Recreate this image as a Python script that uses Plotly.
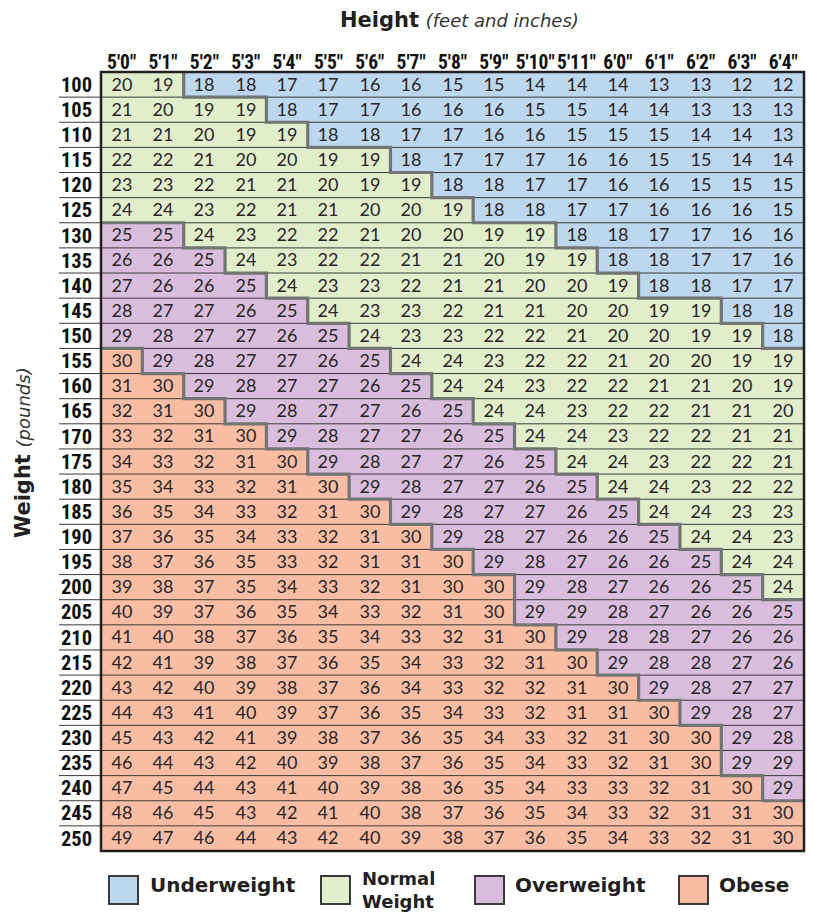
import numpy as np
import plotly.graph_objects as go

heights = ["5'0\"", "5'1\"", "5'2\"", "5'3\"", "5'4\"", "5'5\"", "5'6\"", "5'7\"", "5'8\"",
           "5'9\"", "5'10\"", "5'11\"", "6'0\"", "6'1\"", "6'2\"", "6'3\"", "6'4\""]
weights = list(range(100, 251, 5))

bmi = [
    [20, 19, 18, 18, 17, 17, 16, 16, 15, 15, 14, 14, 14, 13, 13, 12, 12],
    [21, 20, 19, 19, 18, 17, 17, 16, 16, 16, 15, 15, 14, 14, 13, 13, 13],
    [21, 21, 20, 19, 19, 18, 18, 17, 17, 16, 16, 15, 15, 15, 14, 14, 13],
    [22, 22, 21, 20, 20, 19, 19, 18, 17, 17, 17, 16, 16, 15, 15, 14, 14],
    [23, 23, 22, 21, 21, 20, 19, 19, 18, 18, 17, 17, 16, 16, 15, 15, 15],
    [24, 24, 23, 22, 21, 21, 20, 20, 19, 18, 18, 17, 17, 16, 16, 16, 15],
    [25, 25, 24, 23, 22, 22, 21, 20, 20, 19, 19, 18, 18, 17, 17, 16, 16],
    [26, 26, 25, 24, 23, 22, 22, 21, 21, 20, 19, 19, 18, 18, 17, 17, 16],
    [27, 26, 26, 25, 24, 23, 23, 22, 21, 21, 20, 20, 19, 18, 18, 17, 17],
    [28, 27, 27, 26, 25, 24, 23, 23, 22, 21, 21, 20, 20, 19, 19, 18, 18],
    [29, 28, 27, 27, 26, 25, 24, 23, 23, 22, 22, 21, 20, 20, 19, 19, 18],
    [30, 29, 28, 27, 27, 26, 25, 24, 24, 23, 22, 22, 21, 20, 20, 19, 19],
    [31, 30, 29, 28, 27, 27, 26, 25, 24, 24, 23, 22, 22, 21, 21, 20, 19],
    [32, 31, 30, 29, 28, 27, 27, 26, 25, 24, 24, 23, 22, 22, 21, 21, 20],
    [33, 32, 31, 30, 29, 28, 27, 27, 26, 25, 24, 24, 23, 22, 22, 21, 21],
    [34, 33, 32, 31, 30, 29, 28, 27, 27, 26, 25, 24, 24, 23, 22, 22, 21],
    [35, 34, 33, 32, 31, 30, 29, 28, 27, 27, 26, 25, 24, 24, 23, 22, 22],
    [36, 35, 34, 33, 32, 31, 30, 29, 28, 27, 27, 26, 25, 24, 24, 23, 23],
    [37, 36, 35, 34, 33, 32, 31, 30, 29, 28, 27, 26, 26, 25, 24, 24, 23],
    [38, 37, 36, 35, 33, 32, 31, 31, 30, 29, 28, 27, 26, 26, 25, 24, 24],
    [39, 38, 37, 35, 34, 33, 32, 31, 30, 30, 29, 28, 27, 26, 26, 25, 24],
    [40, 39, 37, 36, 35, 34, 33, 32, 31, 30, 29, 29, 28, 27, 26, 26, 25],
    [41, 40, 38, 37, 36, 35, 34, 33, 32, 31, 30, 29, 28, 28, 27, 26, 26],
    [42, 41, 39, 38, 37, 36, 35, 34, 33, 32, 31, 30, 29, 28, 28, 27, 26],
    [43, 42, 40, 39, 38, 37, 36, 34, 33, 32, 32, 31, 30, 29, 28, 27, 27],
    [44, 43, 41, 40, 39, 37, 36, 35, 34, 33, 32, 31, 31, 30, 29, 28, 27],
    [45, 43, 42, 41, 39, 38, 37, 36, 35, 34, 33, 32, 31, 30, 30, 29, 28],
    [46, 44, 43, 42, 40, 39, 38, 37, 36, 35, 34, 33, 32, 31, 30, 29, 29],
    [47, 45, 44, 43, 41, 40, 39, 38, 36, 35, 34, 33, 33, 32, 31, 30, 29],
    [48, 46, 45, 43, 42, 41, 40, 38, 37, 36, 35, 34, 33, 32, 31, 31, 30],
    [49, 47, 46, 44, 43, 42, 40, 39, 38, 37, 36, 35, 34, 33, 32, 31, 30],
]

category_names = ["Underweight", "Normal<br>Weight", "Overweight", "Obese"]
category_max = [18, 24, 29]  # highest table value in each of the first three classes
category_colors = ["#BDD7EF", "#E2EECB", "#D8BEDC", "#F9BDA4"]

# ---------------------------------------------------------------------------
W, H = 813, 918
L, R, T, B = 101, 9, 72, 67
PW, PH = W - L - R, H - T - B


def px(x):
    return (x - L) / PW


def py(y):
    return (H - B - y) / PH


vals = np.array(bmi)
nrows, ncols = vals.shape
cat = np.zeros_like(vals)
for c in category_max:
    cat += (vals > c).astype(int)

cs = []
for k, col in enumerate(category_colors):
    cs.append([k / 4, col])
    cs.append([(k + 1) / 4, col])

fig = go.Figure()
fig.add_trace(go.Heatmap(
    z=cat, x=list(range(ncols)), y=list(range(nrows)),
    text=vals, texttemplate="%{text}",
    textfont=dict(family="Lato, sans-serif", size=18, color="#2a2627"),
    colorscale=cs, zmin=0, zmax=3, showscale=False, hoverinfo="skip",
))

# thin row separators
lx, ly = [], []
for i in range(nrows - 1):
    lx += [-0.5, ncols - 0.5, None]
    ly += [i + 0.5, i + 0.5, None]
fig.add_trace(go.Scatter(x=lx, y=ly, mode="lines",
                         line=dict(color="#3a3a3a", width=1),
                         hoverinfo="skip", showlegend=False))

# category boundaries (staircases)
bx, by = [], []
for b in range(1, len(category_colors)):
    N = [(cat[i] >= b).sum() for i in range(nrows)]
    cur = None
    for i in range(nrows):
        n = N[i]
        xb = n - 0.5
        if 0 < n < ncols:
            if cur != (xb, i - 0.5):
                bx.append(None); by.append(None)
                bx.append(xb); by.append(i - 0.5)
            bx.append(xb); by.append(i + 0.5)
        else:
            bx.append(None); by.append(None)
            bx.append(xb); by.append(i + 0.5)
        cur = (xb, i + 0.5)
        if i < nrows - 1 and N[i + 1] != n:
            nx_ = N[i + 1] - 0.5
            bx.append(nx_); by.append(i + 0.5)
            cur = (nx_, i + 0.5)
    bx.append(None); by.append(None)
fig.add_trace(go.Scatter(x=bx, y=by, mode="lines",
                         line=dict(color="#747474", width=3.2),
                         hoverinfo="skip", showlegend=False))

shapes = []
# separators in the row-label column
for i in range(nrows - 1):
    shapes.append(dict(type="line", xref="paper", yref="y",
                       x0=px(59), x1=px(101), y0=i + 0.5, y1=i + 0.5,
                       line=dict(color="#3a3a3a", width=1)))
# outer border
shapes.append(dict(type="rect", xref="paper", yref="paper", x0=0, x1=1, y0=0, y1=1,
                   line=dict(color="#231f20", width=2.5)))

# legend
leg_sq = [109, 321, 475, 679]
leg_tx = [149, 361, 514, 718]
annotations = []
for k in range(4):
    shapes.append(dict(type="rect", xref="paper", yref="paper",
                       x0=px(leg_sq[k]), x1=px(leg_sq[k] + 29), y0=py(904), y1=py(876),
                       fillcolor=category_colors[k], line=dict(color="#3a3a3a", width=2)))
    two = "<br>" in category_names[k]
    annotations.append(dict(xref="paper", yref="paper", x=px(leg_tx[k]),
                            y=py(867) if two else py(885),
                            xanchor="left", yanchor="top" if two else "middle",
                            showarrow=False, text=category_names[k], align="left",
                            borderpad=0,
                            font=dict(family="DejaVu Sans", size=18 if two else 20,
                                      color="#231f20", weight="bold")))

italic = "<span style='font-size:18px;font-weight:normal;font-family:DejaVu Sans;fill:#333'><i>%s</i></span>"
annotations.append(dict(
    xref="paper", yref="paper", x=px(459), y=py(20), xanchor="center", yanchor="middle",
    showarrow=False,
    text="<b>Height</b> " + italic % "(feet and inches)",
    font=dict(family="DejaVu Sans", size=21, color="#231f20")))
annotations.append(dict(
    xref="paper", yref="paper", x=px(23), y=py(453), xanchor="center", yanchor="middle",
    showarrow=False, textangle=-90,
    text="<b>Weight</b> " + italic % "(pounds)",
    font=dict(family="DejaVu Sans", size=21, color="#231f20")))

xlabel_font = dict(family="Roboto Condensed, Roboto, sans-serif",
                   size=19.5, color="#111111", weight="bold")
ylabel_font = dict(family="Roboto Condensed, Roboto, sans-serif",
                   size=20.5, color="#111111", weight="bold")

fig.update_layout(
    width=W, height=H, margin=dict(l=L, r=R, t=T, b=B, pad=0),
    paper_bgcolor="white", plot_bgcolor="white",
    shapes=shapes, annotations=annotations, showlegend=False,
    xaxis=dict(range=[-0.5, ncols - 0.5], tickvals=list(range(ncols)), ticktext=heights,
               side="top", ticks="", showgrid=False, zeroline=False, showline=False,
               tickfont=xlabel_font, tickangle=0, fixedrange=True, ticklabelstandoff=-2),
    yaxis=dict(range=[nrows - 0.5, -0.5], tickvals=list(range(nrows)),
               ticktext=[str(w) for w in weights], ticks="", showgrid=False,
               zeroline=False, showline=False, tickfont=ylabel_font, fixedrange=True,
               ticklabelstandoff=8),
)

fig.write_html("out.html", config={"displayModeBar": False},
               post_script="document.body.style.margin='0';document.body.style.padding='0';")
